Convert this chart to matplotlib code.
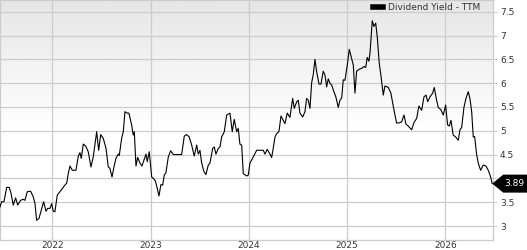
import numpy as np
import matplotlib
matplotlib.use("Agg")
import matplotlib.pyplot as plt
from matplotlib.patches import Polygon

# Dividend yield (TTM), decimal year vs. percent
years = [
    2021.468, 2021.485, 2021.508, 2021.536, 2021.562, 2021.580, 2021.603, 2021.627, 2021.648, 2021.678,
    2021.705, 2021.722, 2021.746, 2021.780, 2021.807, 2021.824, 2021.841, 2021.865, 2021.888, 2021.912,
    2021.936, 2021.953, 2021.977, 2021.994, 2022.010, 2022.027, 2022.051, 2022.078, 2022.129, 2022.147,
    2022.163, 2022.180, 2022.204, 2022.241, 2022.265, 2022.282, 2022.295, 2022.316, 2022.340, 2022.366,
    2022.394, 2022.417, 2022.452, 2022.472, 2022.493, 2022.519, 2022.547, 2022.570, 2022.587, 2022.608,
    2022.628, 2022.648, 2022.672, 2022.682, 2022.706, 2022.723, 2022.740, 2022.763, 2022.780, 2022.808,
    2022.824, 2022.835, 2022.852, 2022.869, 2022.893, 2022.913, 2022.933, 2022.954, 2022.967, 2022.987,
    2023.012, 2023.028, 2023.048, 2023.069, 2023.086, 2023.106, 2023.124, 2023.140, 2023.157, 2023.181,
    2023.205, 2023.232, 2023.266, 2023.317, 2023.344, 2023.368, 2023.394, 2023.419, 2023.445, 2023.470,
    2023.486, 2023.503, 2023.521, 2023.544, 2023.564, 2023.588, 2023.605, 2023.633, 2023.649, 2023.666,
    2023.690, 2023.707, 2023.724, 2023.751, 2023.775, 2023.809, 2023.832, 2023.852, 2023.877, 2023.893,
    2023.910, 2023.928, 2023.944, 2023.979, 2023.995, 2024.012, 2024.046, 2024.080, 2024.114, 2024.148,
    2024.165, 2024.188, 2024.216, 2024.233, 2024.249, 2024.267, 2024.284, 2024.307, 2024.328, 2024.351,
    2024.368, 2024.392, 2024.419, 2024.447, 2024.463, 2024.488, 2024.504, 2024.521, 2024.549, 2024.572,
    2024.589, 2024.606, 2024.623, 2024.640, 2024.656, 2024.674, 2024.691, 2024.715, 2024.735, 2024.758,
    2024.776, 2024.793, 2024.809, 2024.826, 2024.844, 2024.867, 2024.888, 2024.911, 2024.928, 2024.946,
    2024.962, 2024.979, 2025.003, 2025.023, 2025.047, 2025.064, 2025.081, 2025.098, 2025.122, 2025.149,
    2025.173, 2025.190, 2025.206, 2025.223, 2025.234, 2025.257, 2025.274, 2025.292, 2025.308, 2025.328,
    2025.346, 2025.369, 2025.386, 2025.420, 2025.447, 2025.465, 2025.488, 2025.505, 2025.539, 2025.556,
    2025.580, 2025.600, 2025.623, 2025.658, 2025.681, 2025.709, 2025.732, 2025.760, 2025.783, 2025.804,
    2025.821, 2025.844, 2025.872, 2025.888, 2025.912, 2025.929, 2025.953, 2025.980, 2026.004, 2026.024,
    2026.041, 2026.058, 2026.081, 2026.106, 2026.132, 2026.150, 2026.167, 2026.190, 2026.211, 2026.234,
    2026.251, 2026.269, 2026.285, 2026.299, 2026.320, 2026.336, 2026.360, 2026.387, 2026.414, 2026.438,
    2026.462, 2026.478,
]
yield_ttm = [
    3.40, 3.51, 3.51, 3.81, 3.81, 3.69, 3.44, 3.59, 3.44, 3.54,
    3.56, 3.54, 3.72, 3.73, 3.61, 3.47, 3.12, 3.16, 3.33, 3.51,
    3.31, 3.37, 3.37, 3.47, 3.31, 3.30, 3.65, 3.72, 3.86, 3.90,
    4.10, 4.26, 4.17, 4.17, 4.47, 4.54, 4.42, 4.72, 4.68, 4.56,
    4.24, 4.45, 4.98, 4.59, 4.92, 4.84, 4.63, 4.24, 4.21, 4.03,
    4.24, 4.42, 4.51, 4.48, 4.84, 4.98, 5.40, 5.37, 5.37, 5.12,
    4.91, 4.98, 4.26, 4.44, 4.32, 4.26, 4.38, 4.51, 4.35, 4.56,
    4.03, 4.00, 3.95, 3.79, 3.63, 3.87, 3.86, 4.07, 4.12, 4.45,
    4.58, 4.50, 4.50, 4.50, 4.89, 4.92, 4.87, 4.70, 4.47, 4.70,
    4.51, 4.59, 4.32, 4.14, 4.08, 4.28, 4.32, 4.63, 4.66, 4.51,
    4.63, 4.66, 4.87, 4.98, 5.33, 5.37, 4.98, 5.24, 4.98, 5.05,
    4.72, 4.70, 4.10, 4.05, 4.07, 4.32, 4.45, 4.59, 4.59, 4.59,
    4.51, 4.61, 4.51, 4.44, 4.63, 4.87, 4.94, 4.98, 5.31, 5.22,
    5.15, 5.37, 5.28, 5.68, 5.47, 5.61, 5.64, 5.37, 5.29, 5.40,
    5.68, 5.64, 5.47, 6.01, 6.17, 6.50, 6.24, 5.98, 5.98, 6.25,
    6.17, 5.92, 6.09, 6.00, 5.96, 5.82, 5.70, 5.49, 5.64, 5.69,
    6.07, 6.06, 6.38, 6.71, 6.52, 6.38, 5.79, 6.25, 6.29, 6.31,
    6.35, 6.33, 6.54, 6.46, 6.63, 7.31, 7.19, 7.26, 6.97, 6.42,
    6.15, 5.75, 5.94, 5.91, 5.79, 5.58, 5.33, 5.16, 5.17, 5.19,
    5.33, 5.14, 5.10, 5.02, 5.17, 5.26, 5.52, 5.43, 5.71, 5.75,
    5.61, 5.71, 5.79, 5.91, 5.64, 5.49, 5.45, 5.33, 5.54, 5.12,
    5.10, 5.22, 4.91, 4.87, 4.80, 5.02, 5.07, 5.49, 5.68, 5.82,
    5.68, 5.40, 4.87, 4.88, 4.49, 4.32, 4.17, 4.28, 4.26, 4.17,
    4.03, 3.89,
]
year_ticks = [2022, 2023, 2024, 2025, 2026]
y_ticks = [3, 3.5, 4, 4.5, 5, 5.5, 6, 6.5, 7, 7.5]
y_labels = ["3", "3.5", "4", "4.5", "5", "5.5", "6", "6.5", "7", "7.5"]
series_name = "Dividend Yield - TTM"

grid_col = "#cccccc"
text_col = "#333333"
fs = 6.5

fig = plt.figure(figsize=(5.27, 2.5), dpi=100)
ax = fig.add_axes([0, 10 / 250, 493 / 527, 240 / 250])

ax.set_xlim(2021.468, 2026.486)
ax.set_ylim(2.706, 7.746)

# grey (top) to white background gradient
grad = np.ones((100, 1))
grad[:55, 0] = np.linspace(0.90, 1.0, 55)
ax.imshow(grad, cmap="gray", vmin=0, vmax=1, aspect="auto", origin="upper",
          extent=[0, 1, 0, 1], transform=ax.transAxes, zorder=0)

for yt in y_ticks:
    ax.axhline(yt, color=grid_col, lw=0.9, zorder=1)
for xt in year_ticks:
    ax.axvline(xt, color=grid_col, lw=0.9, zorder=1)

ax.plot(years, yield_ttm, color="black", lw=0.8, zorder=3, label=series_name)

for s in ax.spines.values():
    s.set_color(grid_col)
    s.set_linewidth(0.9)

ax.set_xticks(year_ticks)
ax.set_xticklabels([str(y) for y in year_ticks], fontsize=fs, color=text_col)
ax.tick_params(axis="x", length=0, pad=0.5)
ax.yaxis.tick_right()
ax.set_yticks(y_ticks)
ax.set_yticklabels(y_labels, fontsize=fs, color=text_col)
ax.tick_params(axis="y", length=3, color=grid_col, pad=2)

leg = ax.legend(loc="upper right", bbox_to_anchor=(0.985, 1.01), frameon=False,
                fontsize=fs, handlelength=1.0, handleheight=0.5, handletextpad=0.6,
                borderaxespad=0.2)
for h in leg.legend_handles:
    h.set_linewidth(4)
for t in leg.get_texts():
    t.set_color(text_col)

# last value tag (covers the y label it sits on)
last = yield_ttm[-1]
for yt, lab in zip(y_ticks, ax.get_yticklabels()):
    if abs(yt - last) < 0.2:
        lab.set_visible(False)

fig.canvas.draw()
px, py = ax.transData.transform((years[-1], last))
W = fig.bbox.width
h = 9
poly = Polygon([[px, py], [px + 11, py + h], [W, py + h], [W, py - h], [px + 11, py - h]],
               closed=True, transform=None, facecolor="black", edgecolor="none",
               clip_on=False, zorder=5)
fig.patches.append(poly)
tx, ty = fig.transFigure.inverted().transform((px + 11 + (W - px - 11) / 2 - 1, py))
fig.text(tx, ty, f"{last:.2f}", color="white", fontsize=fs,
         ha="center", va="center", zorder=6)

fig.savefig("out.png", dpi=100)
